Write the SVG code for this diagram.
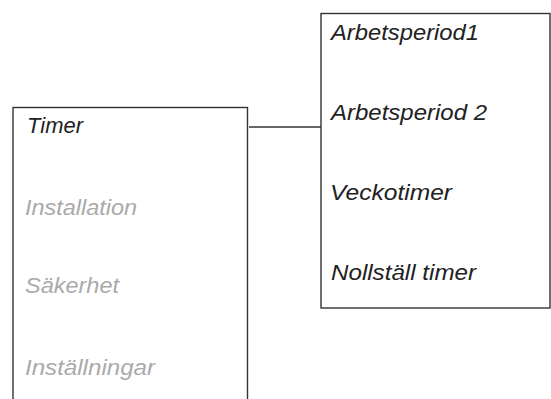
<svg xmlns="http://www.w3.org/2000/svg" width="551" height="399" viewBox="0 0 551 399">
<style>
.box{fill:#fff;stroke:#333;stroke-width:1.4}
.t{font-family:"Liberation Sans",Arial,sans-serif;font-style:italic;font-size:21.5px;fill:#222}
.d{fill:#aaa}
.c{stroke:#333;stroke-width:1.4;fill:none}
</style>
<rect width="551" height="399" fill="#fff"/>
<g id="connectors">
<line class="c" x1="249" y1="127" x2="321" y2="127"/>
</g>
<g id="main-menu">
<rect class="box" x="13" y="107.5" width="234.5" height="320"/>
<text class="t" x="27" y="133" textLength="56" lengthAdjust="spacingAndGlyphs">Timer</text>
<text class="t d" x="25" y="215" textLength="112" lengthAdjust="spacingAndGlyphs">Installation</text>
<text class="t d" x="25" y="293" textLength="94" lengthAdjust="spacingAndGlyphs">Säkerhet</text>
<text class="t d" x="25" y="375" textLength="130" lengthAdjust="spacingAndGlyphs">Inställningar</text>
</g>
<g id="timer-menu">
<rect class="box" x="321" y="13.5" width="229" height="294.5"/>
<text class="t" x="331" y="40" textLength="148" lengthAdjust="spacingAndGlyphs">Arbetsperiod1</text>
<text class="t" x="331" y="119.5" textLength="156" lengthAdjust="spacingAndGlyphs">Arbetsperiod 2</text>
<text class="t" x="330" y="199.5" textLength="122" lengthAdjust="spacingAndGlyphs">Veckotimer</text>
<text class="t" x="331" y="279.5" textLength="145" lengthAdjust="spacingAndGlyphs">Nollställ timer</text>
</g>
</svg>
